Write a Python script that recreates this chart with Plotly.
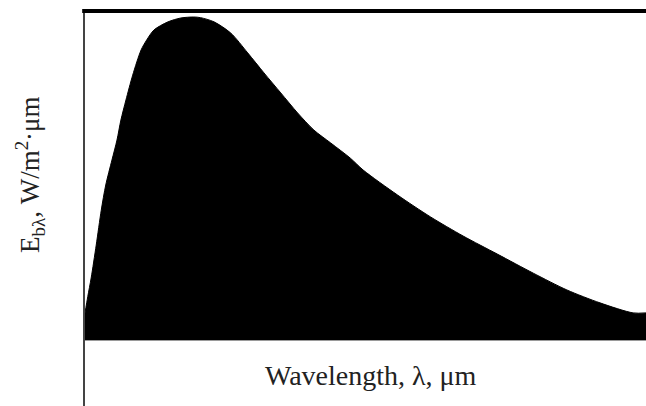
import plotly.graph_objects as go

# Spectral emissive power curve (arbitrary units), wavelength on an unlabeled 0-10 scale
wavelength = [0.00, 0.05, 0.11, 0.20, 0.29, 0.37, 0.48, 0.57, 0.64, 0.73, 0.85,
              1.00, 1.10, 1.23, 1.48, 1.71, 1.94, 2.06, 2.30, 2.60, 2.90, 3.19,
              3.49, 3.79, 4.08, 4.38, 4.73, 4.96, 5.57, 6.16, 6.74, 7.35, 7.99,
              8.59, 9.18, 9.77, 10.00]
emissive_power = [8.4, 13.5, 19.2, 29.4, 40.2, 48.0, 55.7, 61.9, 68.1, 74.3, 82.0,
                  89.8, 92.9, 96.0, 98.5, 99.7, 100.0, 99.8, 98.5, 95.0, 88.9, 82.7,
                  76.5, 70.3, 65.0, 61.0, 56.3, 52.6, 44.9, 38.1, 32.2, 26.6, 20.7,
                  15.5, 11.5, 8.4, 8.4]

x_title = "Wavelength, λ, μm"
y_title = "E<sub>bλ</sub>, W/m<sup>2</sup>·μm"

serif = "Liberation Serif, Times New Roman, serif"

fig = go.Figure()
fig.add_trace(go.Scatter(
    x=wavelength, y=emissive_power,
    mode="lines", line=dict(color="black", width=1, shape="spline", smoothing=0.8),
    fill="tozeroy", fillcolor="black",
    hoverinfo="skip", showlegend=False,
))

fig.update_layout(
    width=646, height=406,
    margin=dict(l=85, r=0, t=11, b=0),
    paper_bgcolor="white", plot_bgcolor="white",
    xaxis=dict(range=[0, 10], showgrid=False, showticklabels=False,
               ticks="", zeroline=False, showline=False),
    yaxis=dict(range=[-20.43, 101.86], showgrid=False, showticklabels=False,
               ticks="", zeroline=True, zerolinecolor="#9a9a9a", zerolinewidth=1,
               showline=True, linecolor="#444444", linewidth=2),
    shapes=[
        # heavy top frame line
        dict(type="line", xref="paper", yref="paper",
             x0=-0.005, x1=1, y0=1, y1=1,
             line=dict(color="black", width=4)),
    ],
    annotations=[
        dict(text=x_title, xref="paper", yref="paper", x=0.51, y=0.076,
             showarrow=False, xanchor="center", yanchor="middle",
             font=dict(family=serif, size=28, color="#222222")),
        dict(text=y_title, xref="paper", yref="paper", x=-0.098, y=0.585,
             showarrow=False, xanchor="center", yanchor="middle", textangle=-90,
             font=dict(family=serif, size=27, color="#222222")),
    ],
)

fig.write_html("out.html")
